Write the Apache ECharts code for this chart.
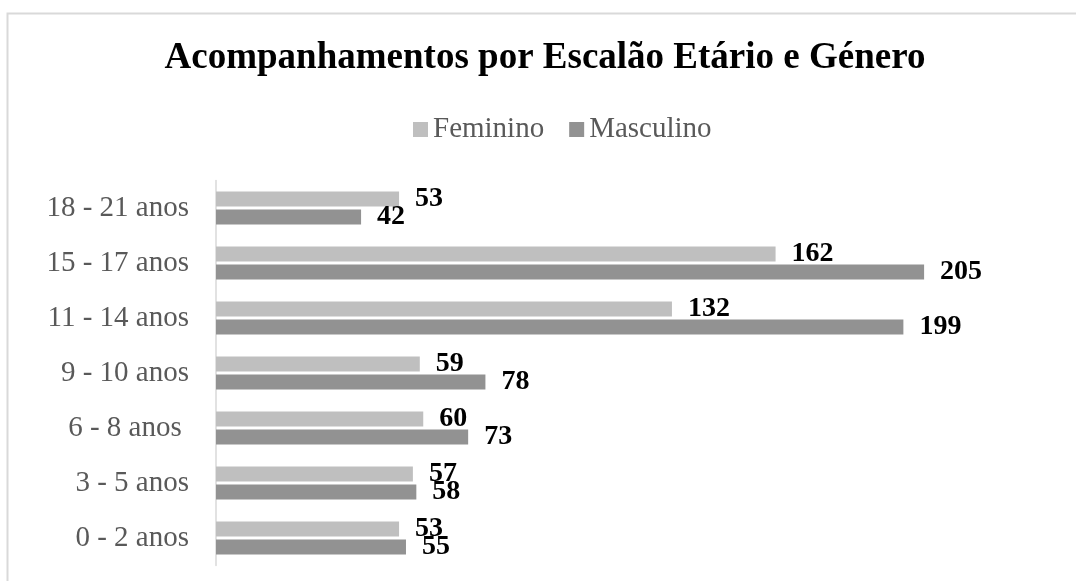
<!DOCTYPE html>
<html>
<head>
<meta charset="utf-8">
<script src="https://cdn.jsdelivr.net/npm/echarts@6/dist/echarts.min.js"></script>
<style>
  html, body { margin: 0; padding: 0; background: #fff; overflow: hidden; }
  #chart { width: 1076px; height: 581px; }
</style>
</head>
<body>
<div id="chart"></div>
<script>
// escalões etários, de baixo para cima
var categorias = ['0 - 2 anos', '3 - 5 anos', '6 - 8 anos ', '9 - 10 anos', '11 - 14 anos', '15 - 17 anos', '18 - 21 anos'];
var feminino = [53, 57, 60, 59, 132, 162, 53];
var masculino = [55, 58, 73, 78, 199, 205, 42];

var fonte = 'Liberation Serif, Times New Roman, serif';
var chart = echarts.init(document.getElementById('chart'));

var labelCfg = {
    show: true,
    position: 'right',
    distance: 16,
    color: '#000',
    fontFamily: fonte,
    fontWeight: 'bold',
    fontSize: 28
};

var option = {
    backgroundColor: '#fff',
    animation: false,
    graphic: [{
        type: 'rect',
        silent: true,
        shape: { x: 7.5, y: 13.5, width: 1100, height: 600 },
        style: { fill: 'none', stroke: '#d9d9d9', lineWidth: 2 }
    }],
    title: {
        text: 'Acompanhamentos por Escalão Etário e Género',
        left: 545,
        top: 40,
        padding: 0,
        textAlign: 'center',
        textStyle: {
            fontFamily: fonte,
            fontWeight: 'bold',
            fontSize: 37,
            color: '#000'
        }
    },
    legend: {
        data: ['Feminino', 'Masculino'],
        left: 413,
        top: 115,
        padding: 0,
        icon: 'rect',
        itemWidth: 15,
        itemHeight: 15,
        itemGap: 25,
        textStyle: {
            fontFamily: fonte,
            fontSize: 29,
            color: '#595959'
        }
    },
    grid: {
        left: 216,
        top: 180.5,
        width: 829,
        height: 385
    },
    xAxis: {
        type: 'value',
        min: 0,
        max: 240,
        show: false
    },
    yAxis: {
        type: 'category',
        data: categorias,
        axisLine: { lineStyle: { color: '#d9d9d9', width: 1.5 } },
        axisTick: { show: false },
        axisLabel: {
            margin: 27,
            fontFamily: fonte,
            fontSize: 29,
            color: '#595959'
        }
    },
    series: [
        {
            name: 'Feminino',
            type: 'bar',
            data: feminino,
            barWidth: 15,
            barGap: '20%',
            itemStyle: { color: '#bfbfbf' },
            label: labelCfg
        },
        {
            name: 'Masculino',
            type: 'bar',
            data: masculino,
            barWidth: 15,
            barGap: '20%',
            itemStyle: { color: '#929292' },
            label: labelCfg
        }
    ]
};

chart.setOption(option);
</script>
</body>
</html>
